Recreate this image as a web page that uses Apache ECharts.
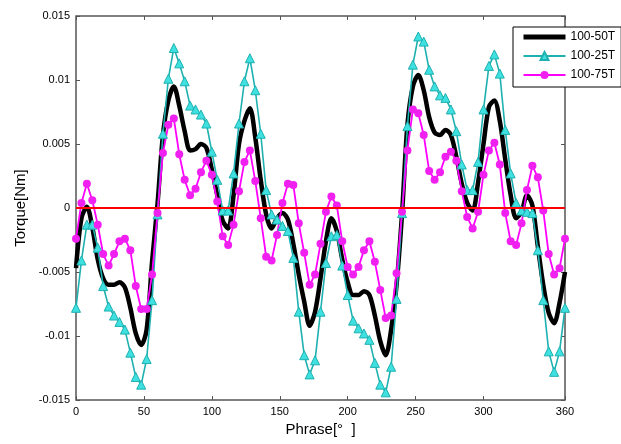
<!DOCTYPE html>
<html>
<head>
<meta charset="utf-8">
<script src="https://cdn.jsdelivr.net/npm/echarts/dist/echarts.min.js"></script>
<style>
  html, body { margin: 0; padding: 0; background: #fff; }
  #torque { width: 621px; height: 444px; }
</style>
</head>
<body>
<div id="torque"></div>
<script>
// phase angle [deg], one sample every 4 deg
var angles = [0, 4, 8, 12, 16, 20, 24, 28, 32, 36, 40, 44, 48, 52, 56, 60, 64, 68, 72, 76,
  80, 84, 88, 92, 96, 100, 104, 108, 112, 116, 120, 124, 128, 132, 136, 140, 144, 148, 152, 156,
  160, 164, 168, 172, 176, 180, 184, 188, 192, 196, 200, 204, 208, 212, 216, 220, 224, 228, 232, 236,
  240, 244, 248, 252, 256, 260, 264, 268, 272, 276, 280, 284, 288, 292, 296, 300, 304, 308, 312, 316,
  320, 324, 328, 332, 336, 340, 344, 348, 352, 356, 360];

// 100-50T (black)
var torque50 = [-0.0047, -0.0008, 0.0001, -0.0015, -0.0040, -0.0055, -0.0060, -0.0060, -0.0058, -0.0062,
  -0.0078, -0.0098, -0.0107, -0.0095, -0.0042, 0.0003, 0.0057, 0.0084, 0.0095, 0.0080,
  0.0060, 0.0045, 0.0046, 0.0050, 0.0047, 0.0030, 0.0010, -0.0010, -0.0016, 0.0010,
  0.0050, 0.0068, 0.0078, 0.0055, 0.0022, -0.0005, -0.0016, -0.0008, -0.0004, -0.0009,
  -0.0028, -0.0052, -0.0073, -0.0092, -0.0081, -0.0055, -0.0026, -0.0008, -0.0018, -0.0040,
  -0.0058, -0.0068, -0.0068, -0.0065, -0.0068, -0.0084, -0.0104, -0.0115, -0.0095, -0.0060,
  -0.0005, 0.0065, 0.0095, 0.0104, 0.0092, 0.0071, 0.0059, 0.0057, 0.0061, 0.0057,
  0.0040, 0.0019, 0.0004, -0.0002, 0.0020, 0.0050, 0.0079, 0.0084, 0.0068, 0.0038,
  0.0010, -0.0008, -0.0003, 0.0010, 0.0002, -0.0030, -0.0060, -0.0082, -0.0090, -0.0074,
  -0.0050];

// 100-25T (cyan, triangles)
var torque25 = [-0.0078, -0.0041, -0.0013, -0.0013, -0.0031, -0.0061, -0.0077, -0.0084, -0.0089, -0.0095,
  -0.0113, -0.0132, -0.0138, -0.0118, -0.0072, -0.0005, 0.0058, 0.0101, 0.0125, 0.0113,
  0.0099, 0.0080, 0.0077, 0.0073, 0.0066, 0.0044, 0.0022, -0.0002, -0.0002, 0.0027,
  0.0066, 0.0099, 0.0117, 0.0092, 0.0058, 0.0014, -0.0005, -0.0009, -0.0014, -0.0018,
  -0.0039, -0.0081, -0.0115, -0.0130, -0.0119, -0.0081, -0.0043, -0.0022, -0.0021, -0.0045,
  -0.0068, -0.0088, -0.0094, -0.0098, -0.0103, -0.0121, -0.0138, -0.0144, -0.0124, -0.0071,
  -0.0004, 0.0064, 0.0112, 0.0134, 0.0130, 0.0108, 0.0095, 0.0088, 0.0086, 0.0077,
  0.0060, 0.0034, 0.0014, 0.0014, 0.0036, 0.0077, 0.0111, 0.0120, 0.0105, 0.0061,
  0.0027, 0.0004, -0.0002, -0.0003, -0.0004, -0.0033, -0.0072, -0.0112, -0.0128, -0.0112,
  -0.0078];

// 100-75T (magenta, circles)
var torque75 = [-0.0024, 0.0004, 0.0019, 0.0006, -0.0013, -0.0036, -0.0045, -0.0036, -0.0026, -0.0024,
  -0.0033, -0.0061, -0.0079, -0.0079, -0.0052, -0.0004, 0.0043, 0.0065, 0.0070, 0.0042,
  0.0022, 0.0010, 0.0015, 0.0028, 0.0037, 0.0026, 0.0005, -0.0022, -0.0029, -0.0013,
  0.0013, 0.0036, 0.0045, 0.0021, -0.0008, -0.0038, -0.0041, -0.0021, 0.0004, 0.0019,
  0.0018, -0.0012, -0.0035, -0.0060, -0.0052, -0.0028, -0.0003, 0.0009, 0.0002, -0.0026,
  -0.0046, -0.0052, -0.0046, -0.0033, -0.0026, -0.0042, -0.0064, -0.0086, -0.0084, -0.0051,
  -0.0003, 0.0045, 0.0077, 0.0074, 0.0057, 0.0029, 0.0022, 0.0028, 0.0040, 0.0044,
  0.0037, 0.0013, -0.0007, -0.0016, -0.0003, 0.0026, 0.0045, 0.0051, 0.0034, -0.0004,
  -0.0026, -0.0029, -0.0012, 0.0014, 0.0033, 0.0024, -0.0002, -0.0036, -0.0052, -0.0047,
  -0.0024];

var xTicks = [0, 50, 100, 150, 200, 250, 300, 360];
var seriesNames = ['100-50T', '100-25T', '100-75T'];

function pairs(ys) {
  return angles.map(function (a, i) { return [a, ys[i]]; });
}

var font = '"Liberation Sans", Arial, sans-serif';
var frameColor = '#555';

var myChart = echarts.init(document.getElementById('torque'));
var xBase = {
  type: 'value',
  min: 0,
  max: 360,
  axisLine: { show: false, onZero: false },
  axisTick: { inside: true, length: 4, customValues: xTicks, lineStyle: { color: frameColor, width: 1 } },
  splitLine: { show: false }
};
var yBase = {
  type: 'value',
  min: -0.015,
  max: 0.015,
  interval: 0.005,
  axisLine: { show: false, onZero: false },
  axisTick: { inside: true, length: 4, lineStyle: { color: frameColor, width: 1 } },
  splitLine: { show: false }
};

var option = {
  animation: false,
  backgroundColor: '#fff',
  textStyle: { fontFamily: font },
  grid: {
    left: 76,
    right: 56,
    top: 16,
    bottom: 44,
    show: true,
    borderColor: frameColor,
    borderWidth: 1.5
  },
  legend: {
    // black entry: thick line only, hide the default dot
    data: [
      { name: seriesNames[0], itemStyle: { opacity: 0 }, lineStyle: { color: '#000', width: 5 } },
      { name: seriesNames[1] },
      { name: seriesNames[2] }
    ],
    orient: 'vertical',
    left: 513,
    top: 27,
    itemWidth: 42,
    itemHeight: 10,
    itemGap: 7,
    padding: [4, 6, 6, 8],
    borderColor: '#000',
    borderWidth: 1,
    backgroundColor: '#fff',
    textStyle: { fontSize: 12, color: '#000', fontFamily: font }
  },
  xAxis: [
    Object.assign({}, xBase, {
      position: 'bottom',
      name: 'Phrase[°  ]',
      nameLocation: 'middle',
      nameGap: 22,
      nameTextStyle: { fontSize: 15, color: '#000' },
      axisLabel: { customValues: xTicks, fontSize: 11, color: '#000', margin: 6 }
    }),
    Object.assign({}, xBase, { position: 'top', axisLabel: { show: false } })
  ],
  yAxis: [
    Object.assign({}, yBase, {
      position: 'left',
      name: 'Torque[Nm]',
      nameLocation: 'middle',
      nameGap: 46,
      nameTextStyle: { fontSize: 15, color: '#000' },
      axisLabel: { fontSize: 11, color: '#000', margin: 6 }
    }),
    Object.assign({}, yBase, { position: 'right', axisLabel: { show: false } })
  ],
  series: [
    {
      name: seriesNames[0],
      type: 'line',
      data: pairs(torque50),
      smooth: 0.3,
      showSymbol: false,
      symbol: 'none',
      itemStyle: { color: '#000' },
      lineStyle: { color: '#000', width: 4.5 }
    },
    {
      name: seriesNames[1],
      type: 'line',
      data: pairs(torque25),
      symbol: 'triangle',
      symbolSize: 9,
      itemStyle: { color: '#3ee0e0', borderColor: '#1fb0b0', borderWidth: 1 },
      lineStyle: { color: '#1fb0b0', width: 1.6 }
    },
    {
      name: seriesNames[2],
      type: 'line',
      data: pairs(torque75),
      symbol: 'circle',
      symbolSize: 8,
      itemStyle: { color: '#f020f0' },
      lineStyle: { color: '#ff00ff', width: 1.8 }
    },
    {
      name: 'zero',
      type: 'line',
      data: [],
      markLine: {
        silent: true,
        symbol: 'none',
        label: { show: false },
        lineStyle: { color: '#ff0000', width: 2, type: 'solid' },
        data: [{ yAxis: 0 }]
      }
    }
  ]
};
myChart.setOption(option);
</script>
</body>
</html>
